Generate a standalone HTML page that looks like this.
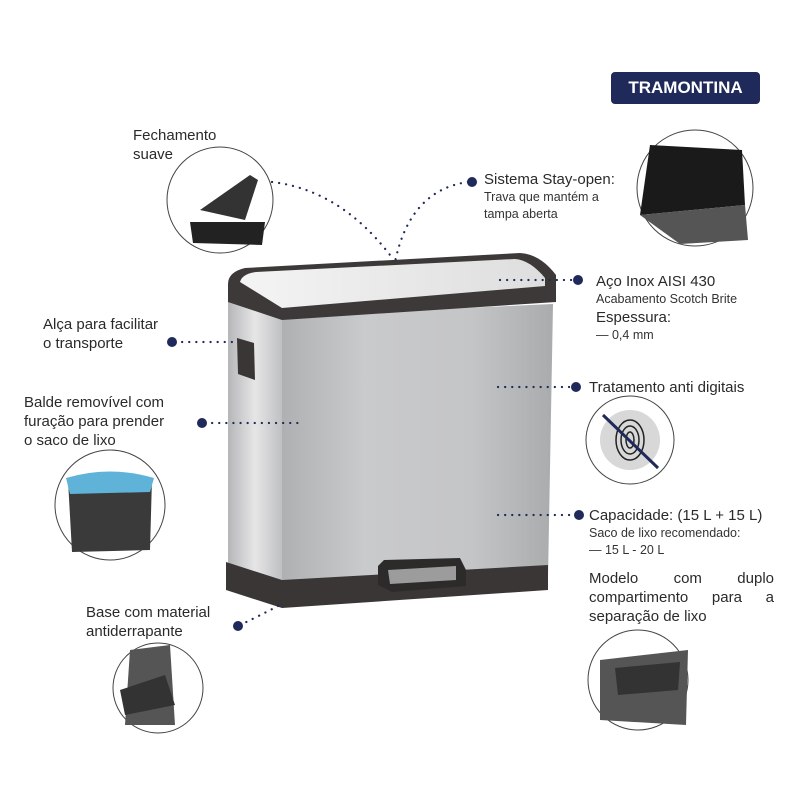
<!DOCTYPE html>
<html><head><meta charset="utf-8"><style>
body{margin:0;width:800px;height:800px;background:#fff;overflow:hidden;position:relative;font-family:"Liberation Sans",sans-serif;color:#222}
.t{position:absolute;font-size:15px;line-height:19px;color:#2a2a2a}
.s{font-size:12.5px;line-height:17px;color:#333}
</style></head><body>
<svg width="800" height="800" style="position:absolute;left:0;top:0">
<defs>
<linearGradient id="fr" x1="0" x2="1"><stop offset="0" stop-color="#aeb0b2"/><stop offset=".3" stop-color="#c9cacc"/><stop offset=".7" stop-color="#c4c5c7"/><stop offset="1" stop-color="#a9abad"/></linearGradient>
<linearGradient id="sd" x1="0" x2="1"><stop offset="0" stop-color="#b5b6b8"/><stop offset=".5" stop-color="#e6e6e7"/><stop offset="1" stop-color="#bfc0c2"/></linearGradient>
<linearGradient id="ld" x1="0" x2="1"><stop offset="0" stop-color="#f4f4f4"/><stop offset="1" stop-color="#dedede"/></linearGradient>
</defs>
<path d="M228 298 L282 316 L282 600 L228 585 Z" fill="url(#sd)"/>
<path d="M282 316 L553 304 L548 578 L282 600 Z" fill="url(#fr)"/>
<path d="M226 562 L282 580 L548 565 L548 590 L282 608 L226 590 Z" fill="#3a3636"/>
<path d="M228 284 Q228 272 245 268 L520 253 Q540 254 556 275 L556 302 L282 320 L228 302 Z" fill="#3d3939"/>
<path d="M240 282 Q242 274 256 272 L515 259 Q530 260 545 278 L545 286 L282 308 Z" fill="url(#ld)"/>
<path d="M237 338 L254 343 L255 380 L238 374 Z" fill="#3a3636"/>
<path d="M378 566 L384 560 L460 558 L466 570 L466 586 L392 592 L378 585 Z" fill="#2d2a2a"/>
<path d="M388 570 L456 566 L456 580 L390 584 Z" fill="#9c9c9c"/>
<g stroke="#1f2a5a" stroke-width="2.2" stroke-dasharray="0.1 7" stroke-linecap="round" fill="none">
<path d="M272 182 Q340 190 390 255"/>
<path d="M468 182 Q410 190 395 262"/>
<path d="M500 280 L575 280"/>
<path d="M175 342 L232 342"/>
<path d="M205 423 L300 423"/>
<path d="M498 387 L570 387"/>
<path d="M498 515 L575 515"/>
<path d="M240 625 Q255 618 280 605"/>
</g>
<g fill="#1f2a5a">
<circle cx="472" cy="182" r="5"/><circle cx="578" cy="280" r="5"/><circle cx="172" cy="342" r="5"/>
<circle cx="202" cy="423" r="5"/><circle cx="576" cy="387" r="5"/><circle cx="579" cy="515" r="5"/><circle cx="238" cy="626" r="5"/>
</g>
<g stroke="#444" stroke-width="1" fill="#fff">
<circle cx="220" cy="200" r="53"/>
<circle cx="695" cy="188" r="58"/>
<circle cx="110" cy="505" r="55"/>
<circle cx="630" cy="440" r="44"/>
<circle cx="158" cy="688" r="45"/>
<circle cx="638" cy="680" r="50"/>
</g>
<path d="M190 222 L265 222 L262 245 L193 243 Z" fill="#222"/>
<path d="M200 210 L250 175 L258 180 L245 220 Z" fill="#333"/>
<path d="M650 145 L742 150 L745 205 L640 215 Z" fill="#1a1a1a"/>
<path d="M640 215 L745 205 L748 240 L680 244 Z" fill="#555"/>
<path d="M68 480 L152 478 L150 550 L72 552 Z" fill="#3a3a3a"/>
<path d="M66 478 Q110 465 154 478 L150 492 L70 494 Z" fill="#5fb2d8"/>
<circle cx="630" cy="440" r="30" fill="#d8d8d8"/>
<g stroke="#222" stroke-width="1.5" fill="none"><ellipse cx="630" cy="440" rx="14" ry="20"/><ellipse cx="630" cy="440" rx="9" ry="14"/><ellipse cx="630" cy="440" rx="4" ry="8"/></g>
<line x1="603" y1="415" x2="658" y2="468" stroke="#1f2a5a" stroke-width="3"/>
<path d="M130 650 L170 645 L175 725 L125 725 Z" fill="#555"/>
<path d="M120 690 L165 675 L175 705 L125 715 Z" fill="#333"/>
<path d="M600 660 L688 650 L686 725 L600 720 Z" fill="#555"/>
<path d="M615 668 L680 662 L678 690 L618 695 Z" fill="#333"/>
</svg>
<div style="position:absolute;left:611px;top:72px;width:149px;height:32px;background:#1f2a5a;border-radius:4px;color:#fff;font-weight:bold;font-size:17px;line-height:32px;text-align:center">TRAMONTINA</div>
<div class="t" style="left:133px;top:126px">Fechamento<br>suave</div>
<div class="t" style="left:484px;top:170px">Sistema Stay-open:<div class="s">Trava que mantém a<br>tampa aberta</div></div>
<div class="t" style="left:596px;top:272px">Aço Inox AISI 430<div class="s">Acabamento Scotch Brite</div>Espessura:<div class="s">— 0,4 mm</div></div>
<div class="t" style="left:43px;top:315px">Alça para facilitar<br>o transporte</div>
<div class="t" style="left:24px;top:393px">Balde removível com<br>furação para prender<br>o saco de lixo</div>
<div class="t" style="left:589px;top:378px">Tratamento anti digitais</div>
<div class="t" style="left:589px;top:506px">Capacidade: (15 L + 15 L)<div class="s">Saco de lixo recomendado:<br>— 15 L - 20 L</div></div>
<div class="t" style="left:589px;top:569px;width:185px;text-align:justify;text-align-last:justify">Modelo com duplo compartimento para a</div>
<div class="t" style="left:589px;top:607px">separação de lixo</div>
<div class="t" style="left:86px;top:603px">Base com material<br>antiderrapante</div>
</body></html>
